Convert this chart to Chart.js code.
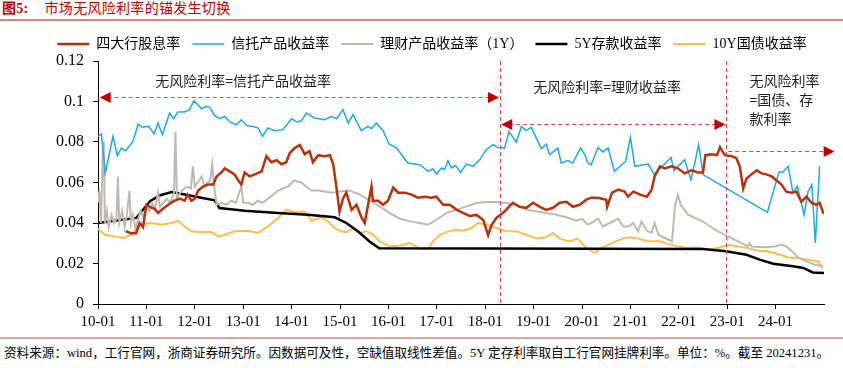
<!DOCTYPE html>
<html lang="zh-CN">
<head>
    <meta charset="UTF-8">
    <title>市场无风险利率的锚发生切换</title>
    <style>
        body {
            margin: 0;
            padding: 0;
            width: 843px;
            height: 368px;
            overflow: hidden;
            position: relative;
            background: #fff;
            font-family: 'Liberation Serif', 'Noto Sans CJK SC', serif;
            color: #000;
        }
        .title {
            position: absolute;
            left: 2px;
            top: 0;
            line-height: 17px;
            font-size: 14px;
            color: #C00000;
            white-space: nowrap;
            letter-spacing: 0.3px;
        }
        .title b { margin-right: 16px; }
        .rule-top {
            position: absolute;
            left: 0; right: 0; top: 19px;
            height: 2px;
            background: #DA8585;
        }
        .chart-box {
            position: absolute;
            left: 0; top: 22px;
            width: 843px; height: 314px;
        }
        .rule-bottom {
            position: absolute;
            left: 0; right: 0; top: 337px;
            height: 2px;
            background: #E5A3A3;
        }
        .note {
            position: absolute;
            left: 4px; top: 344px;
            font-size: 12.6px;
            line-height: 18px;
            white-space: nowrap;
        }
    </style>
</head>
<body>
    <div class="title"><b>图5:</b>市场无风险利率的锚发生切换</div>
    <div class="rule-top"></div>
    <div class="chart-box"><canvas id="rateChart" width="843" height="314"></canvas></div>
    <div class="rule-bottom"></div>
    <div class="note">资料来源：wind，工行官网，浙商证券研究所。因数据可及性，空缺值取线性差值。5Y 定存利率取自工行官网挂牌利率。单位：%。截至 20241231。</div>

    <script src="https://cdn.jsdelivr.net/npm/chart.js"></script>
    <script>
        // [year, rate] pairs
        const seriesNames = ['四大行股息率', '信托产品收益率', '理财产品收益率（1Y）', '5Y存款收益率', '10Y国债收益率'];
        const xTickLabels = ['10-01', '11-01', '12-01', '13-01', '14-01', '15-01', '16-01', '17-01',
            '18-01', '19-01', '20-01', '21-01', '22-01', '23-01', '24-01'];
        const yTickLabels = ['0', '0.02', '0.04', '0.06', '0.08', '0.1', '0.12'];

        const dividendYield = [
            [2010.57, 0.036], [2010.68, 0.035], [2010.79, 0.035], [2010.86, 0.040], [2010.93, 0.038],
            [2011.00, 0.049], [2011.07, 0.048], [2011.17, 0.047], [2011.24, 0.045], [2011.34, 0.047],
            [2011.45, 0.049], [2011.58, 0.051], [2011.69, 0.052], [2011.79, 0.051], [2011.85, 0.054],
            [2011.93, 0.051], [2012.00, 0.052], [2012.07, 0.056], [2012.17, 0.058], [2012.27, 0.059],
            [2012.38, 0.059], [2012.45, 0.063], [2012.55, 0.065], [2012.62, 0.067], [2012.72, 0.0655],
            [2012.82, 0.064], [2012.90, 0.061], [2012.96, 0.059], [2013.03, 0.065], [2013.13, 0.063],
            [2013.24, 0.064], [2013.38, 0.0655], [2013.48, 0.073], [2013.58, 0.070], [2013.69, 0.071],
            [2013.79, 0.069], [2013.89, 0.070], [2013.96, 0.0745], [2014.06, 0.077], [2014.17, 0.0785],
            [2014.27, 0.074], [2014.37, 0.0755], [2014.44, 0.070], [2014.55, 0.0735], [2014.68, 0.073],
            [2014.79, 0.0735], [2014.86, 0.069], [2014.93, 0.057], [2014.99, 0.0455], [2015.06, 0.052],
            [2015.13, 0.055], [2015.24, 0.0465], [2015.34, 0.049], [2015.44, 0.043], [2015.51, 0.040],
            [2015.58, 0.049], [2015.65, 0.058], [2015.68, 0.051], [2015.79, 0.051], [2015.89, 0.049],
            [2015.99, 0.051], [2016.10, 0.0575], [2016.20, 0.055], [2016.34, 0.055], [2016.48, 0.054],
            [2016.61, 0.0525], [2016.75, 0.053], [2016.89, 0.0525], [2016.99, 0.053], [2017.13, 0.049],
            [2017.27, 0.049], [2017.41, 0.0465], [2017.54, 0.045], [2017.68, 0.0435], [2017.82, 0.044],
            [2017.96, 0.0415], [2018.06, 0.034], [2018.13, 0.039], [2018.23, 0.0425], [2018.37, 0.045],
            [2018.47, 0.0475], [2018.57, 0.050], [2018.71, 0.048], [2018.85, 0.0475], [2018.99, 0.050],
            [2019.13, 0.048], [2019.26, 0.0465], [2019.40, 0.0475], [2019.54, 0.050], [2019.68, 0.0505],
            [2019.81, 0.048], [2019.95, 0.049], [2020.09, 0.0515], [2020.19, 0.0525], [2020.33, 0.0525],
            [2020.50, 0.0515], [2020.52, 0.048], [2020.62, 0.055], [2020.75, 0.0565], [2020.88, 0.0555],
            [2020.95, 0.053], [2021.06, 0.0555], [2021.20, 0.054], [2021.34, 0.053], [2021.44, 0.0565],
            [2021.50, 0.063], [2021.61, 0.068], [2021.71, 0.067], [2021.85, 0.068], [2021.98, 0.067],
            [2022.12, 0.0645], [2022.26, 0.066], [2022.40, 0.065], [2022.50, 0.065], [2022.55, 0.0735],
            [2022.68, 0.074], [2022.79, 0.0735], [2022.85, 0.0775], [2022.95, 0.0735], [2023.09, 0.073],
            [2023.19, 0.072], [2023.26, 0.068], [2023.33, 0.057], [2023.40, 0.062], [2023.50, 0.064],
            [2023.61, 0.066], [2023.71, 0.0645], [2023.81, 0.064], [2023.92, 0.063], [2024.02, 0.061],
            [2024.12, 0.059], [2024.22, 0.0555], [2024.33, 0.055], [2024.43, 0.0555], [2024.53, 0.0505],
            [2024.64, 0.053], [2024.74, 0.050], [2024.84, 0.049], [2024.91, 0.050], [2024.99, 0.0445]
        ];

        const trustYield = [
            [2010.00, 0.0828], [2010.07, 0.084], [2010.15, 0.0647], [2010.31, 0.0828], [2010.40, 0.0732],
            [2010.48, 0.077], [2010.57, 0.0757], [2010.72, 0.0803], [2010.83, 0.0889], [2010.90, 0.0874],
            [2011.05, 0.0877], [2011.16, 0.084], [2011.24, 0.0894], [2011.33, 0.0836], [2011.48, 0.0943],
            [2011.56, 0.0915], [2011.65, 0.0948], [2011.79, 0.0948], [2011.89, 0.096], [2011.98, 0.1004],
            [2012.14, 0.0964], [2012.24, 0.0976], [2012.31, 0.0971], [2012.41, 0.0931], [2012.51, 0.0915],
            [2012.62, 0.0926], [2012.72, 0.0899], [2012.86, 0.0885], [2012.96, 0.091], [2013.07, 0.0882],
            [2013.20, 0.0877], [2013.31, 0.0869], [2013.40, 0.0828], [2013.51, 0.0869], [2013.65, 0.0856],
            [2013.82, 0.0861], [2014.00, 0.0915], [2014.10, 0.0899], [2014.20, 0.0905], [2014.31, 0.0943],
            [2014.48, 0.0918], [2014.68, 0.091], [2014.82, 0.0926], [2014.93, 0.0915], [2015.06, 0.096],
            [2015.17, 0.0894], [2015.27, 0.0935], [2015.44, 0.0856], [2015.58, 0.0877], [2015.65, 0.0866],
            [2015.75, 0.0894], [2015.89, 0.0856], [2016.01, 0.079], [2016.17, 0.077], [2016.40, 0.0696],
            [2016.65, 0.0688], [2016.82, 0.0655], [2016.92, 0.0668], [2016.99, 0.0642], [2017.10, 0.0672],
            [2017.16, 0.0663], [2017.23, 0.0708], [2017.30, 0.0672], [2017.39, 0.0684], [2017.49, 0.065],
            [2017.61, 0.0691], [2017.75, 0.068], [2017.89, 0.0713], [2018.02, 0.0762], [2018.16, 0.0787],
            [2018.26, 0.0773], [2018.40, 0.077], [2018.49, 0.0852], [2018.64, 0.080], [2018.75, 0.0877],
            [2018.84, 0.0856], [2018.95, 0.0872], [2019.16, 0.0767], [2019.26, 0.079], [2019.33, 0.0737],
            [2019.50, 0.077], [2019.57, 0.0696], [2019.71, 0.0708], [2019.81, 0.0696], [2019.97, 0.077],
            [2020.06, 0.0737], [2020.12, 0.0696], [2020.19, 0.0688], [2020.33, 0.0773], [2020.43, 0.0751],
            [2020.54, 0.077], [2020.67, 0.0655], [2020.90, 0.0704], [2021.00, 0.0823], [2021.09, 0.068],
            [2021.37, 0.0691], [2021.49, 0.0639], [2021.84, 0.0724], [2021.90, 0.0658], [2022.12, 0.0713],
            [2022.25, 0.0614], [2022.33, 0.0696], [2022.41, 0.0787], [2022.50, 0.0639], [2023.83, 0.0452],
            [2024.07, 0.0652], [2024.15, 0.0652], [2024.26, 0.068], [2024.36, 0.0548], [2024.45, 0.0581],
            [2024.59, 0.0441], [2024.67, 0.0556], [2024.75, 0.0589], [2024.82, 0.0301], [2024.91, 0.068]
        ];

        const wealthYield = [
            [2010.00, 0.050], [2010.03, 0.056], [2010.06, 0.040], [2010.10, 0.075], [2010.12, 0.080],
            [2010.14, 0.040], [2010.18, 0.046], [2010.22, 0.038], [2010.28, 0.044], [2010.33, 0.040],
            [2010.38, 0.042], [2010.41, 0.063], [2010.44, 0.040], [2010.50, 0.046], [2010.55, 0.038],
            [2010.60, 0.045], [2010.65, 0.056], [2010.68, 0.040], [2010.72, 0.044], [2010.78, 0.037],
            [2010.83, 0.042], [2010.88, 0.046], [2010.94, 0.043], [2011.00, 0.048], [2011.06, 0.046],
            [2011.12, 0.050], [2011.18, 0.047], [2011.24, 0.055], [2011.28, 0.048], [2011.35, 0.050],
            [2011.42, 0.052], [2011.50, 0.050], [2011.57, 0.055], [2011.60, 0.085], [2011.63, 0.052],
            [2011.70, 0.055], [2011.78, 0.057], [2011.85, 0.058], [2011.92, 0.057], [2011.96, 0.068],
            [2012.00, 0.058], [2012.06, 0.060], [2012.14, 0.063], [2012.20, 0.058], [2012.26, 0.060],
            [2012.32, 0.061], [2012.36, 0.069], [2012.40, 0.058], [2012.45, 0.049], [2012.55, 0.050],
            [2012.65, 0.049], [2012.75, 0.051], [2012.85, 0.050], [2012.96, 0.058], [2013.00, 0.050],
            [2013.10, 0.050], [2013.20, 0.049], [2013.30, 0.051], [2013.40, 0.050], [2013.51, 0.052],
            [2013.62, 0.054], [2013.72, 0.056], [2013.82, 0.057], [2013.93, 0.058], [2014.05, 0.061],
            [2014.20, 0.060], [2014.30, 0.058], [2014.41, 0.056], [2014.55, 0.056], [2014.68, 0.0556],
            [2014.85, 0.055], [2014.99, 0.0556], [2015.20, 0.056], [2015.41, 0.054], [2015.62, 0.051],
            [2015.82, 0.0482], [2016.03, 0.0449], [2016.24, 0.0421], [2016.45, 0.0408], [2016.65, 0.040],
            [2016.82, 0.0392], [2016.99, 0.0416], [2017.20, 0.0449], [2017.41, 0.0466], [2017.61, 0.0482],
            [2017.82, 0.0499], [2018.02, 0.0504], [2018.23, 0.0504], [2018.44, 0.0499], [2018.64, 0.0487],
            [2018.85, 0.0466], [2019.06, 0.0457], [2019.26, 0.0449], [2019.47, 0.0441], [2019.68, 0.0428],
            [2019.88, 0.0411], [2020.00, 0.042], [2020.12, 0.0392], [2020.19, 0.040], [2020.33, 0.0421],
            [2020.43, 0.0383], [2020.57, 0.040], [2020.75, 0.0421], [2020.85, 0.0383], [2020.96, 0.0383],
            [2021.06, 0.040], [2021.16, 0.0359], [2021.23, 0.0408], [2021.34, 0.0362], [2021.44, 0.0351],
            [2021.50, 0.040], [2021.58, 0.0342], [2021.71, 0.0326], [2021.86, 0.0309], [2021.92, 0.0482],
            [2021.98, 0.054], [2022.04, 0.049], [2022.19, 0.0441], [2022.47, 0.0411], [2022.81, 0.0359],
            [2023.15, 0.0318], [2023.43, 0.0284], [2023.46, 0.0301], [2023.51, 0.0284], [2023.77, 0.028],
            [2023.98, 0.0284], [2024.12, 0.0293], [2024.22, 0.0284], [2024.33, 0.0263], [2024.46, 0.023],
            [2024.60, 0.0214], [2024.81, 0.0194], [2024.98, 0.0186]
        ];

        const depositRate = [
            [2010.00, 0.040], [2010.79, 0.0425], [2010.96, 0.0474], [2011.07, 0.0507], [2011.27, 0.0536],
            [2011.52, 0.0553], [2011.74, 0.0543], [2012.00, 0.0531], [2012.41, 0.0512], [2012.51, 0.0474],
            [2013.03, 0.0461], [2013.72, 0.0449], [2014.34, 0.0441], [2014.89, 0.0428], [2015.13, 0.040],
            [2015.37, 0.0359], [2015.61, 0.0309], [2015.81, 0.0275], [2022.50, 0.0272], [2022.98, 0.026],
            [2023.40, 0.0243], [2023.67, 0.0219], [2023.95, 0.0199], [2024.36, 0.0186], [2024.57, 0.0178],
            [2024.77, 0.0156], [2025.00, 0.0153]
        ];

        const bondYield = [
            [2010.00, 0.0372], [2010.14, 0.0342], [2010.34, 0.0334], [2010.52, 0.0326], [2010.69, 0.0342],
            [2010.83, 0.0383], [2011.03, 0.040], [2011.17, 0.0398], [2011.30, 0.0392], [2011.52, 0.040],
            [2011.65, 0.0411], [2011.79, 0.0383], [2011.93, 0.0359], [2012.14, 0.0355], [2012.34, 0.0355],
            [2012.48, 0.0334], [2012.62, 0.0342], [2012.82, 0.0359], [2013.10, 0.0362], [2013.31, 0.0351],
            [2013.51, 0.0383], [2013.72, 0.0425], [2013.89, 0.0466], [2014.06, 0.0454], [2014.27, 0.0457],
            [2014.41, 0.0411], [2014.62, 0.0428], [2014.75, 0.0408], [2014.89, 0.0375], [2015.03, 0.0359],
            [2015.13, 0.0355], [2015.27, 0.0372], [2015.41, 0.0351], [2015.55, 0.0359], [2015.69, 0.0342],
            [2015.82, 0.0309], [2016.03, 0.0284], [2016.24, 0.0289], [2016.45, 0.0301], [2016.65, 0.0273],
            [2016.82, 0.0273], [2016.92, 0.0309], [2017.06, 0.0342], [2017.20, 0.0355], [2017.37, 0.0367],
            [2017.54, 0.0362], [2017.72, 0.0375], [2017.85, 0.040], [2018.02, 0.0392], [2018.23, 0.0375],
            [2018.44, 0.0359], [2018.64, 0.0359], [2018.85, 0.0342], [2019.06, 0.0323], [2019.26, 0.033],
            [2019.40, 0.0351], [2019.54, 0.0323], [2019.74, 0.0309], [2019.91, 0.0323], [2020.06, 0.0284],
            [2020.26, 0.0252], [2020.40, 0.0276], [2020.62, 0.0301], [2020.83, 0.0323], [2020.96, 0.033],
            [2021.16, 0.0323], [2021.37, 0.0309], [2021.58, 0.0311], [2021.78, 0.0296], [2021.98, 0.0284],
            [2022.19, 0.0276], [2022.40, 0.0279], [2022.61, 0.0268], [2022.81, 0.0276], [2023.02, 0.0293],
            [2023.22, 0.0284], [2023.43, 0.0276], [2023.64, 0.0263], [2023.84, 0.026], [2024.05, 0.0247],
            [2024.26, 0.023], [2024.46, 0.0227], [2024.67, 0.0219], [2024.88, 0.021], [2024.98, 0.0174]
        ];

        const serifCjk = "'Liberation Serif', 'Noto Sans CJK SC', serif";
        const toPoints = (pairs) => pairs.map(([x, y]) => ({ x: x, y: y }));

        const makeSeries = (label, pairs, color, width) => ({
            label: label,
            data: toPoints(pairs),
            borderColor: color,
            backgroundColor: color,
            borderWidth: width,
            pointRadius: 0,
            tension: 0,
            fill: false
        });

        // dashed regime separators, arrows and their captions
        const regimeMarks = {
            id: 'regimeMarks',
            afterDraw(chart) {
                const { ctx, chartArea, scales: { x, y } } = chart;
                const red = '#E0474C';
                const headColor = '#C00000';
                ctx.save();
                ctx.strokeStyle = red;
                ctx.lineWidth = 1;
                ctx.setLineDash([4, 3]);
                [2018.31, 2022.98].forEach(yr => {
                    const px = Math.round(x.getPixelForValue(yr)) + 0.5;
                    ctx.beginPath();
                    ctx.moveTo(px, chartArea.top);
                    ctx.lineTo(px, chartArea.bottom);
                    ctx.stroke();
                });

                const head = (px, py, dir) => {
                    ctx.beginPath();
                    ctx.moveTo(px, py);
                    ctx.lineTo(px - dir * 11, py - 5.5);
                    ctx.lineTo(px - dir * 11, py + 5.5);
                    ctx.closePath();
                    ctx.fill();
                };
                const arrows = [
                    { y: 0.102, from: 2010.035, to: 2018.285, left: true },
                    { y: 0.0889, from: 2018.33, to: 2022.963, left: true },
                    { y: 0.0754, from: 2023.02, to: 2025.22, left: false }
                ];
                arrows.forEach(a => {
                    const py = Math.round(y.getPixelForValue(a.y)) + 0.5;
                    const x0 = x.getPixelForValue(a.from);
                    const x1 = x.getPixelForValue(a.to);
                    ctx.setLineDash([4, 3]);
                    ctx.strokeStyle = red;
                    ctx.beginPath();
                    ctx.moveTo(a.left ? x0 + 8 : x0, py);
                    ctx.lineTo(x1 - 8, py);
                    ctx.stroke();
                    ctx.setLineDash([]);
                    ctx.fillStyle = headColor;
                    if (a.left) head(x0, py, -1);
                    head(x1, py, 1);
                });

                ctx.fillStyle = '#222';
                ctx.font = "14px 'Noto Sans CJK SC'";
                ctx.textBaseline = 'middle';
                ctx.textAlign = 'center';
                ctx.fillText('无风险利率=信托产品收益率', x.getPixelForValue(2013.0), y.getPixelForValue(0.1103));
                ctx.fillText('无风险利率=理财收益率', x.getPixelForValue(2020.52), y.getPixelForValue(0.1073));
                ctx.textAlign = 'left';
                const lx = x.getPixelForValue(2023.46);
                ctx.fillText('无风险利率', lx, y.getPixelForValue(0.1103));
                ctx.fillText('=国债、存', lx, y.getPixelForValue(0.1010));
                ctx.fillText('款利率', lx, y.getPixelForValue(0.0917));
                ctx.restore();
            }
        };

        new Chart(document.getElementById('rateChart'), {
            type: 'line',
            data: {
                datasets: [
                    makeSeries(seriesNames[0], dividendYield, '#B83210', 2.5),
                    makeSeries(seriesNames[1], trustYield, '#1CABE6', 1.5),
                    makeSeries(seriesNames[2], wealthYield, '#BDBBB1', 2),
                    makeSeries(seriesNames[3], depositRate, '#000000', 2.5),
                    makeSeries(seriesNames[4], bondYield, '#FFBE4D', 2)
                ]
            },
            options: {
                responsive: false,
                animation: false,
                events: [],
                layout: { padding: { top: 3, left: 40, right: 19, bottom: 0 } },
                plugins: {
                    tooltip: { enabled: false },
                    legend: {
                        position: 'top',
                        labels: {
                            usePointStyle: true,
                            pointStyle: 'line',
                            pointStyleWidth: 32,
                            padding: 12,
                            color: '#000',
                            font: { size: 14, family: serifCjk }
                        }
                    }
                },
                scales: {
                    x: {
                        type: 'linear',
                        min: 2010,
                        max: 2025,
                        afterFit: (scale) => { scale.height = 32; },
                        afterBuildTicks: (scale) => {
                            scale.ticks = scale.ticks.filter(t => t.value < 2025);
                        },
                        grid: { drawOnChartArea: false, tickLength: 5, tickColor: '#000' },
                        border: { color: '#000', width: 1 },
                        ticks: {
                            stepSize: 1,
                            autoSkip: false,
                            maxRotation: 0,
                            padding: 4,
                            color: '#000',
                            font: { size: 15, family: serifCjk },
                            callback: (v) => xTickLabels[Math.round(v) - 2010]
                        }
                    },
                    y: {
                        min: 0,
                        max: 0.12,
                        afterFit: (scale) => { scale.width = 58; },
                        grid: { drawOnChartArea: false, tickLength: 5, tickColor: '#000' },
                        border: { color: '#000', width: 1 },
                        ticks: {
                            stepSize: 0.02,
                            padding: 9,
                            color: '#000',
                            font: { size: 16, family: serifCjk },
                            callback: (v, i) => yTickLabels[i]
                        }
                    }
                }
            },
            plugins: [regimeMarks]
        });
    </script>
</body>
</html>
